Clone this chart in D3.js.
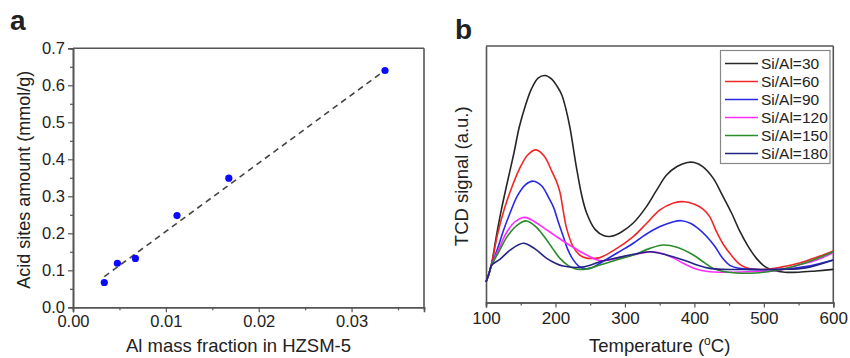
<!DOCTYPE html>
<html><head><meta charset="utf-8">
<script src="https://cdn.jsdelivr.net/npm/d3@7"></script>
<style>
html,body{margin:0;padding:0;background:#fff;}
svg text{font-family:"Liberation Sans",Arial,sans-serif;fill:#222;}
</style></head>
<body>
<svg id="c" width="850" height="358"></svg>
<script>
// ---------- Panel a data ----------
const alFraction = [0.00337, 0.00478, 0.00672, 0.0112, 0.01678, 0.0336];
const acidAmount = [0.067, 0.119, 0.132, 0.248, 0.349, 0.640];
const fitX = [0.00337, 0.0334];
const fitY = [0.0827, 0.637];
const aXTicks = [0, 0.01, 0.02, 0.03];
const aYTicks = [0, 0.1, 0.2, 0.3, 0.4, 0.5, 0.6, 0.7];

// ---------- Panel b data (T in °C, signal a.u.) ----------
const seriesNames = ["Si/Al=30","Si/Al=60","Si/Al=90","Si/Al=120","Si/Al=150","Si/Al=180"];
const seriesColors = ["#262626","#f02828","#2828e6","#ff2cff","#2a8c2a","#232385"];
const s30 = [[100,8],[104,11],[108,15],[115,26],[122,36],[130,46],[140,58],[148,68.5],[157,77],[165,83],[175,87.5],[185,88.5],[195,87],[203,84],[209,81],[215,75.5],[221,68],[230,53],[238,41.5],[245,34.8],[257,28.5],[270,26],[280,25.8],[295,27.5],[312,31],[330,37],[345,43.5],[360,49.7],[375,53],[390,54.6],[400,54.6],[412,53],[427,48.5],[440,42],[453.7,34.8],[465,28],[477.6,21.8],[490,17],[501.6,14],[515,12.5],[530,11.8],[550,11.8],[575,12.3],[600,12.9]];
const s60 = [[100,8],[104,11],[108,15],[117,27],[127,37],[138,45.5],[148,52],[160,57.5],[172,59.5],[184,57],[195,51],[201,47.5],[206.5,43],[211,36],[216,29],[225,22],[235,18.5],[245,17.3],[255,17.2],[264,17.5],[285,20.5],[312,25.7],[330,30.5],[350,36],[370,38.8],[386,39.3],[400,38.3],[412,36.5],[422,33.5],[432,27.5],[442,22.5],[453,18.5],[465,15],[477.6,13.3],[501.6,12.9],[525,13.8],[550,15.3],[575,17.5],[600,20.1]];
const s90 = [[100,8],[104,11],[108,14.5],[117.7,21.8],[125,28],[134.5,34.8],[145,41.5],[157,46],[168,47.3],[180,45.5],[190,41],[197,37.3],[204,31.5],[211.3,25.7],[218,20.5],[225.7,16.6],[233,14.3],[240,13.3],[250,13.3],[264,15.3],[290,19.5],[312,23.1],[330,26.5],[350.5,29.6],[370,31.5],[381.7,31.9],[395,30.8],[407,28.5],[417.7,25.7],[429.6,21.8],[440,17.5],[451,14.5],[465,13.3],[477.6,12.9],[525,12.9],[560,14],[600,16.6]];
const s120 = [[100,8],[104,11],[108,14.5],[120,21.8],[130,27.5],[142,31.5],[156,33.2],[170,31.5],[187.4,28.3],[200,26],[216,23.1],[230,20.8],[245,18.5],[258,16.8],[268,16.3],[290,17.2],[312,18.5],[325,19.3],[338.5,19.8],[355,19],[370,17.3],[384,15.3],[400,13.3],[422,12],[440,11.8],[477.6,12],[520,12.5],[550,14.6],[575,16.5],[600,19.4]];
const s150 = [[100,8],[104,11],[108,14.5],[120,20.5],[130,25.5],[145,30.2],[158.5,31.8],[172,29.5],[187.4,24.4],[196,21],[206.5,17.2],[218,14.5],[228,13.2],[235,12.9],[245,13.1],[264,14.6],[290,16.8],[312,18.5],[335,21],[355,22.4],[375,21.5],[398.4,18.5],[413,15.8],[427,13.3],[440,12.2],[460,11.5],[477.6,11.4],[500,11.8],[525,12.9],[560,15.5],[600,19.8]];
const s180 = [[100,8],[104,11],[108,14.5],[120,16.8],[135,20.5],[153.7,23.1],[170,21],[187.4,17.2],[200,15.3],[211,14.2],[235,13.7],[250,14.5],[264,15.9],[290,17.5],[312,18.8],[336.5,19.8],[360,18.5],[384,16.6],[405,14.5],[422,13.3],[440,12.9],[477.6,12.9],[525,12.9],[560,13.5],[600,16.6]];
const bXTicks = [100, 200, 300, 400, 500, 600];

const svg = d3.select("#c");
const axisColor = "#555";

// ================= Panel a =================
const A = {l:73, r:424, t:48.3, b:307.3};
const xa = d3.scaleLinear().domain([0, 0.0378]).range([A.l, A.r]);
const ya = d3.scaleLinear().domain([0, 0.7]).range([A.b, A.t]);
const ga = svg.append("g");

function styleAxis(g){
  g.selectAll("path.domain").attr("stroke", axisColor).attr("stroke-width", 1.6);
  g.selectAll(".tick line").attr("stroke", axisColor).attr("stroke-width", 1.2);
}
// minor ticks a
ga.append("g").attr("transform",`translate(0,${A.b})`)
  .call(d3.axisBottom(xa).tickValues(d3.range(0.005,0.0378,0.01)).tickSize(3).tickFormat(""))
  .call(styleAxis);
ga.append("g").attr("transform",`translate(${A.l},0)`)
  .call(d3.axisLeft(ya).tickValues(d3.range(0.05,0.7,0.1)).tickSize(3).tickFormat(""))
  .call(styleAxis);
const xaAxis = ga.append("g").attr("transform",`translate(0,${A.b})`)
  .call(d3.axisBottom(xa).tickValues(aXTicks).tickSize(5).tickPadding(3).tickFormat(d3.format(".2f")));
xaAxis.call(styleAxis);
xaAxis.selectAll("text").style("font-size","16.5px").attr("fill","#222");
const yaAxis = ga.append("g").attr("transform",`translate(${A.l},0)`)
  .call(d3.axisLeft(ya).tickValues(aYTicks).tickSize(5).tickPadding(3).tickFormat(d3.format(".1f")));
yaAxis.call(styleAxis);
yaAxis.selectAll("text").style("font-size","16.5px").attr("fill","#222");
// top/right frame
ga.append("line").attr("x1",A.l).attr("x2",A.r).attr("y1",A.t).attr("y2",A.t).attr("stroke",axisColor).attr("stroke-width",1.6);
ga.append("line").attr("x1",A.r).attr("x2",A.r).attr("y1",A.t).attr("y2",A.b).attr("stroke",axisColor).attr("stroke-width",1.6);
// fit line
const fitPts = fitX.map((x,i)=>[x, fitY[i]]);
ga.append("path").datum(fitPts)
  .attr("d", d3.line().x(d=>xa(d[0])).y(d=>ya(d[1])))
  .attr("fill","none").attr("stroke","#444").attr("stroke-width",1.6).attr("stroke-dasharray","6,4.5");
// points
ga.selectAll("circle").data(alFraction.map((x,i)=>[x, acidAmount[i]])).enter().append("circle")
  .attr("cx", d=>xa(d[0])).attr("cy", d=>ya(d[1])).attr("r", 3.6).attr("fill","#0a0aff");
// labels
ga.append("text").attr("x",(A.l+A.r)/2 - 10).attr("y",352).attr("text-anchor","middle")
  .style("font-size","18.5px").text("Al mass fraction in HZSM-5");
ga.append("text").attr("transform",`translate(30,${(A.t+A.b)/2 + 2}) rotate(-90)`).attr("text-anchor","middle")
  .style("font-size","18px").text("Acid sites amount (mmol/g)");
ga.append("text").attr("x",10).attr("y",30).style("font-size","28px").style("font-weight","bold").attr("fill","#000").text("a");

// ================= Panel b =================
const B = {l:486, r:833.3, t:46, b:302.5};
const xb = d3.scaleLinear().domain([100, 600]).range([B.l, B.r]);
const yb = d3.scaleLinear().domain([0, 100]).range([B.b, B.t]);
const gb = svg.append("g");
gb.append("g").attr("transform",`translate(0,${B.b})`)
  .call(d3.axisBottom(xb).tickValues(d3.range(150,600,100)).tickSize(3).tickFormat(""))
  .call(styleAxis);
const xbAxis = gb.append("g").attr("transform",`translate(0,${B.b})`)
  .call(d3.axisBottom(xb).tickValues(bXTicks).tickSize(5).tickPadding(4).tickFormat(d3.format("d")));
xbAxis.call(styleAxis);
xbAxis.selectAll("text").style("font-size","17px").attr("fill","#222");
gb.append("g").attr("transform",`translate(${B.l},0)`)
  .call(d3.axisLeft(yb).tickValues([]).tickSize(0))
  .call(styleAxis);
gb.append("line").attr("x1",B.l).attr("x2",B.r).attr("y1",B.t).attr("y2",B.t).attr("stroke",axisColor).attr("stroke-width",1.6);
gb.append("line").attr("x1",B.r).attr("x2",B.r).attr("y1",B.t).attr("y2",B.b).attr("stroke",axisColor).attr("stroke-width",1.6);

const allSeries = [s30, s60, s90, s120, s150, s180];
const lineB = d3.line().x(d=>xb(d[0])).y(d=>yb(d[1])).curve(d3.curveCatmullRom.alpha(0.5));
gb.selectAll("path.series").data(allSeries).enter().append("path").attr("class","series")
  .attr("d", lineB).attr("fill","none")
  .attr("stroke",(d,i)=>seriesColors[i]).attr("stroke-width",1.6);

// legend
const lg = gb.append("g");
lg.append("rect").attr("x",720.5).attr("y",50.5).attr("width",109.5).attr("height",113)
  .attr("fill","#fff").attr("stroke","#888").attr("stroke-width",1.2);
seriesNames.forEach((n,i)=>{
  const y = 63.5 + i*18;
  lg.append("line").attr("x1",725).attr("x2",758).attr("y1",y).attr("y2",y)
    .attr("stroke",seriesColors[i]).attr("stroke-width",1.6);
  lg.append("text").attr("x",761).attr("y",y+5.5).style("font-size","15.5px").attr("fill","#333").text(n);
});

gb.append("text").attr("x",(B.l+B.r)/2).attr("y",352).attr("text-anchor","middle")
  .style("font-size","18.5px")
  .html('Temperature (<tspan baseline-shift="super" font-size="12px">o</tspan>C)');
gb.append("text").attr("transform",`translate(468,${(B.t+B.b)/2 + 2}) rotate(-90)`).attr("text-anchor","middle")
  .style("font-size","18.5px").text("TCD signal (a.u.)");
gb.append("text").attr("x",455).attr("y",39).style("font-size","28px").style("font-weight","bold").attr("fill","#000").text("b");
</script>
</body></html>
